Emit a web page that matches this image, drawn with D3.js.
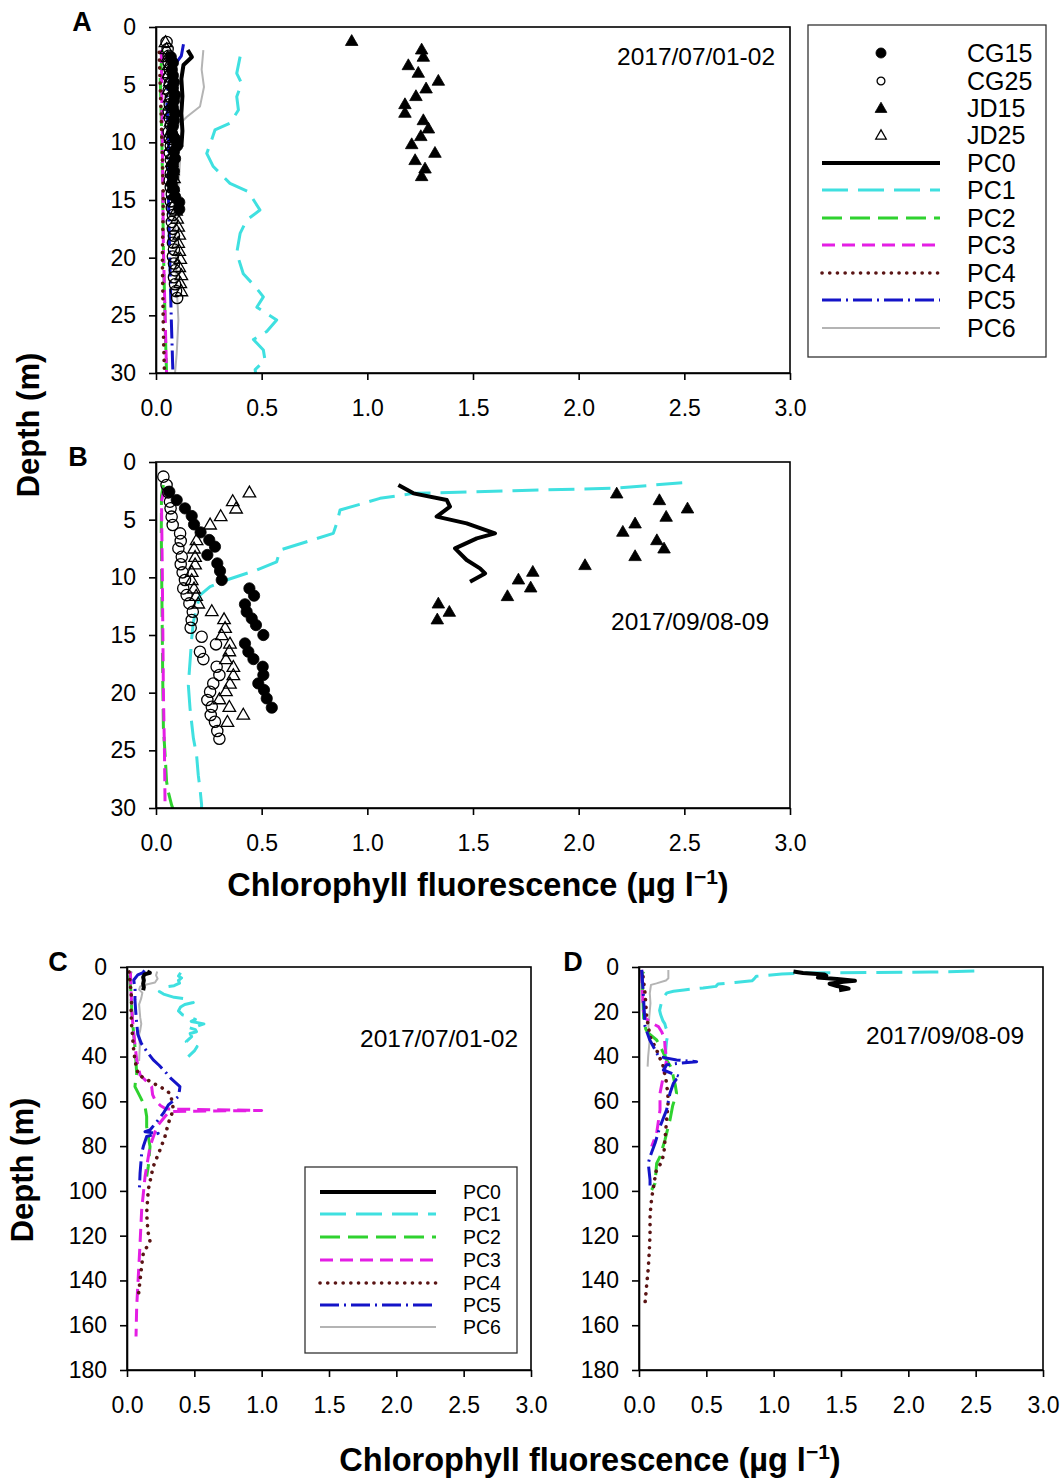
<!DOCTYPE html>
<html><head><meta charset="utf-8">
<script src="https://cdn.jsdelivr.net/npm/d3@7"></script>
<style>
body{margin:0;background:#fff}
svg text{font-family:"Liberation Sans",Arial,Helvetica,sans-serif;fill:#000}
</style>
</head><body>
<svg id="chart" width="1064" height="1479"></svg>
<script>
// ---------------- DATA ----------------
const seriesNames = ["PC0","PC1","PC2","PC3","PC4","PC5","PC6"];
const stationNames = ["CG15","CG25","JD15","JD25"];
const xTickValues = [0, 0.5, 1.0, 1.5, 2.0, 2.5, 3.0];
const shallowDepthTicks = [0, 5, 10, 15, 20, 25, 30];
const deepDepthTicks = [0, 20, 40, 60, 80, 100, 120, 140, 160, 180];
const dateLabels = ["2017/07/01-02", "2017/09/08-09"];
const xTitle = "Chlorophyll fluorescence (\u00b5g l";
const yTitle = "Depth (m)";

// July profiles: [depth (m), chlorophyll (ug/l)]
const julPC0 = [[2.0,0.15],[2.6,0.17],[3.3,0.13],[4.5,0.12],[6.0,0.125],[7.5,0.12],[9.0,0.125],[10.4,0.12]];
const julPC1 = [[2.57,0.398],[4.02,0.382],[4.89,0.405],[6.04,0.382],[7.2,0.39],[8.35,0.35],[8.93,0.279],[9.8,0.263],[10.96,0.24],[12.1,0.271],[13.56,0.35],[14.28,0.437],[15.87,0.492],[16.74,0.429],[17.9,0.398],[19.6,0.382],[21.4,0.413],[22.5,0.469],[23.4,0.508],[24.3,0.477],[25.4,0.571],[26.4,0.524],[27.1,0.461],[28.0,0.508],[28.9,0.516],[29.7,0.469],[31.1,0.48],[33.3,0.44],[35.6,0.52],[37.5,0.5],[40.0,0.455]];
const julPC2 = [[2.0,0.03],[4.3,0.02],[10,0.028],[19.2,0.035],[27,0.045],[35.6,0.059],[41,0.065],[47.5,0.072],[50,0.065],[53.4,0.059],[57.9,0.097],[62.4,0.134],[66.8,0.146],[71.3,0.146],[80.2,0.171],[89.1,0.158],[93.6,0.146]];
const julPC3 = [[2.0,0.025],[10,0.03],[19.2,0.035],[30,0.05],[41.5,0.072],[48.2,0.097],[53.4,0.183],[57,0.19],[59.4,0.208],[62,0.25],[63.4,0.29],[64.1,1.0],[64.5,0.34],[65.5,0.3],[71.3,0.221],[80.2,0.171],[93.6,0.134],[108.5,0.109],[123.4,0.097],[138.2,0.084],[151.6,0.072],[165,0.067]];
const julPC4 = [[2.2,0.015],[8,0.025],[14.7,0.035],[20,0.03],[26.6,0.035],[30,0.04],[35.6,0.047],[42,0.06],[48.2,0.084],[50,0.14],[51.9,0.195],[54,0.26],[56.4,0.319],[60,0.335],[63.8,0.344],[66,0.33],[69.8,0.307],[75.7,0.282],[81.7,0.245],[89.1,0.195],[99.4,0.158],[110,0.146],[118,0.155],[122.6,0.171],[127.8,0.121],[133,0.11],[139.7,0.097],[147.2,0.084]];
const julPC5 = [[1.5,0.13],[2.5,0.12],[3.5,0.08],[5.8,0.05],[10,0.06],[14.7,0.059],[20,0.065],[25.1,0.072],[30,0.08],[34.1,0.106],[38,0.15],[41.5,0.195],[44,0.24],[47.5,0.294],[50,0.33],[53.4,0.393],[55,0.39],[57.9,0.381],[60,0.34],[61.6,0.307],[65.3,0.27],[68.3,0.232],[72.8,0.171],[73.6,0.134],[74.3,0.232],[75.7,0.146],[80.2,0.121],[83.2,0.109],[92.1,0.097],[99.6,0.092]];
const julPC6 = [[2.0,0.224],[3.7,0.216],[5.2,0.227],[6.9,0.208],[7.8,0.145],[8.65,0.098],[10.1,0.09],[11.5,0.114],[13.9,0.106],[16.7,0.09],[22.5,0.098],[25.4,0.106],[28.3,0.098],[30,0.09],[35,0.095],[42,0.09]];

// September profiles
const sepPC0 = [[2.0,1.147],[2.72,1.218],[3.3,1.376],[3.87,1.391],[4.74,1.328],[5.32,1.47],[6.19,1.604],[6.62,1.518],[7.49,1.415],[8.5,1.47],[9.22,1.533],[9.66,1.557],[10.38,1.486]];
const sepPC1 = [[1.8,2.49],[2.28,2.164],[2.49,1.691],[2.72,1.218],[3.15,1.06],[3.58,0.981],[4.16,0.871],[5.32,0.855],[6.19,0.839],[6.91,0.713],[7.63,0.587],[8.65,0.571],[9.37,0.476],[10.23,0.334],[10.81,0.256],[11.54,0.208],[12.69,0.192],[13.85,0.177],[15.29,0.169],[17.32,0.161],[19.34,0.153],[21.36,0.161],[23.96,0.177],[25.41,0.192],[27.15,0.2],[28.3,0.208],[29.75,0.216],[33,0.205],[36,0.2],[41.5,0.193]];
const sepPC2 = [[2.0,0.035],[2.9,0.026],[6,0.025],[12,0.028],[19,0.032],[23,0.035],[26,0.045],[27.7,0.05],[28.6,0.058],[29.75,0.074],[32.6,0.131],[37,0.17],[41.5,0.205],[45,0.24],[49,0.255],[53,0.27],[56.4,0.279],[62,0.25],[68.3,0.23],[77.2,0.193],[84.7,0.156],[87.7,0.131],[96.6,0.119],[99.6,0.094]];
const sepPC3 = [[1.3,0.02],[10,0.025],[19.2,0.032],[23,0.05],[25.1,0.094],[26.6,0.144],[28.9,0.168],[32,0.19],[35.6,0.193],[41.5,0.205],[49,0.18],[56.4,0.156],[63.8,0.156],[74.3,0.131],[80.2,0.094]];
const sepPC3shallow = [[2.3,0.04],[3.4,0.026],[10,0.03],[20,0.035],[25,0.04],[30,0.043]];
const sepPC4 = [[4.3,0.03],[11.8,0.045],[22.2,0.057],[31.1,0.082],[37.1,0.131],[44.5,0.181],[52,0.205],[59.4,0.218],[68.3,0.205],[77.2,0.193],[83.2,0.185],[87,0.168],[91.4,0.126],[98.8,0.106],[103.3,0.094],[110.7,0.082],[119,0.082],[126.3,0.077],[134.5,0.069],[142,0.057],[150,0.045]];
const sepPC5 = [[1.3,0.02],[11.8,0.032],[26.6,0.045],[32.6,0.08],[40,0.146],[41.5,0.279],[42.3,0.428],[43,0.3],[43.7,0.205],[46,0.181],[49,0.304],[50,0.28],[52,0.255],[56.4,0.23],[63.8,0.205],[71.3,0.156],[78.7,0.119],[84.7,0.082],[87.7,0.069],[95.1,0.082],[99.6,0.082]];
const sepPC6 = [[1.3,0.218],[5,0.218],[6,0.2],[7.3,0.13],[8,0.089],[11.8,0.08],[16.2,0.085],[26.6,0.07],[31,0.08],[34.1,0.077],[40,0.068],[44.5,0.064]];

// Station samples (July)
const julCG15 = [[2.6,0.07],[3.1,0.08],[3.7,0.075],[4.2,0.08],[4.8,0.085],[5.3,0.08],[5.9,0.09],[6.4,0.085],[7.0,0.08],[7.5,0.09],[8.1,0.085],[8.6,0.08],[9.2,0.075],[9.7,0.09],[10.3,0.1],[10.8,0.085],[11.4,0.09],[11.9,0.08],[12.5,0.085],[13.0,0.08],[13.6,0.075],[14.1,0.085],[14.7,0.09],[15.2,0.11],[15.8,0.11]];
const julCG25 = [[1.3,0.05],[1.9,0.055],[2.5,0.06],[3.1,0.06],[3.7,0.065],[4.3,0.06],[4.9,0.065],[5.5,0.06],[6.1,0.07],[6.7,0.065],[7.3,0.06],[7.9,0.065],[8.5,0.07],[9.1,0.06],[9.7,0.065],[10.3,0.07],[10.9,0.065],[11.5,0.07],[12.1,0.075],[12.7,0.07],[13.3,0.065],[13.9,0.07],[14.5,0.075],[15.1,0.07],[15.7,0.075],[16.3,0.08],[16.9,0.075],[17.5,0.08],[18.1,0.085],[18.7,0.08],[19.3,0.085],[19.9,0.08],[20.5,0.085],[21.1,0.09],[21.7,0.085],[22.3,0.09],[22.9,0.095],[23.5,0.1]];
const julJD15 = [[1.2,0.926],[1.94,1.257],[2.57,1.265],[3.3,1.194],[3.96,1.241],[4.65,1.336],[5.32,1.278],[5.98,1.23],[6.68,1.178],[7.43,1.178],[8.07,1.265],[8.79,1.289],[9.45,1.253],[10.15,1.21],[10.9,1.32],[11.53,1.226],[12.26,1.273],[12.92,1.257]];
const julJD25 = [[1.3,0.045],[1.9,0.05],[2.6,0.055],[3.3,0.06],[4.0,0.06],[4.7,0.065],[5.4,0.06],[6.1,0.065],[6.8,0.07],[7.5,0.065],[8.2,0.07],[8.9,0.075],[9.6,0.07],[10.3,0.075],[11.0,0.08],[11.7,0.075],[12.4,0.08],[13.1,0.085],[13.8,0.08],[14.5,0.085],[15.2,0.09],[15.9,0.095],[16.6,0.1],[17.3,0.105],[18.0,0.11],[18.7,0.105],[19.4,0.11],[20.1,0.115],[20.8,0.11],[21.5,0.12],[22.2,0.115],[22.9,0.12]];

// Station samples (September)
const sepCG15 = [[2.57,0.063],[3.3,0.098],[4.02,0.137],[4.68,0.169],[5.41,0.18],[6.1,0.211],[6.76,0.252],[7.34,0.279],[8.06,0.243],[8.79,0.29],[9.45,0.303],[10.23,0.311],[10.96,0.442],[11.59,0.464],[12.34,0.421],[12.98,0.429],[13.56,0.453],[14.14,0.473],[15.0,0.508],[15.73,0.421],[16.45,0.437],[17.09,0.461],[17.75,0.505],[18.47,0.508],[19.2,0.484],[19.77,0.511],[20.5,0.524],[21.3,0.548]];
const sepCG25 = [[1.27,0.035],[2.0,0.05],[2.63,0.058],[3.44,0.066],[4.02,0.069],[4.74,0.074],[5.46,0.079],[6.19,0.114],[6.85,0.117],[7.49,0.106],[8.21,0.122],[8.87,0.117],[9.57,0.126],[10.23,0.137],[10.96,0.129],[11.54,0.145],[12.26,0.158],[12.98,0.174],[13.7,0.169],[14.37,0.164],[15.15,0.216],[15.81,0.284],[16.45,0.208],[17.09,0.224],[17.75,0.287],[18.47,0.3],[19.2,0.271],[19.92,0.256],[20.64,0.243],[21.22,0.264],[21.94,0.259],[22.52,0.279],[23.33,0.29],[24.0,0.3]];
const sepJD15 = [[2.72,2.18],[3.3,2.382],[4.02,2.515],[4.74,2.414],[5.32,2.267],[6.04,2.209],[6.77,2.37],[7.49,2.404],[8.15,2.267],[8.93,2.03],[9.51,1.783],[10.18,1.715],[10.87,1.773],[11.62,1.663],[12.26,1.336],[12.98,1.388],[13.64,1.331]];
const sepJD25 = [[2.63,0.442],[3.38,0.363],[4.02,0.379],[4.68,0.306],[5.41,0.256],[6.76,0.192],[7.49,0.18],[8.21,0.185],[8.87,0.185],[9.51,0.169],[10.23,0.169],[10.96,0.18],[11.59,0.19],[12.26,0.2],[12.92,0.264],[13.62,0.322],[14.37,0.327],[15.0,0.311],[15.73,0.35],[16.4,0.347],[17.09,0.331],[17.75,0.366],[18.47,0.366],[19.2,0.35],[19.86,0.331],[20.56,0.3],[21.22,0.347],[21.89,0.413],[22.52,0.338]];

// ---------------- STYLES ----------------
const lineStyle = {
  PC0:{color:"#000000", w:4,   dash:null,        cap:"butt"},
  PC1:{color:"#3fe0e0", w:3,   dash:"26,10",     cap:"butt"},
  PC2:{color:"#2fd22f", w:3,   dash:"20,8",      cap:"butt"},
  PC3:{color:"#e41ee4", w:3,   dash:"13,7",      cap:"butt"},
  PC4:{color:"#5a1414", w:3.6, dash:"0.1,7.6",   cap:"round"},
  PC5:{color:"#1414c8", w:3,   dash:"19,5,2,5",  cap:"butt"},
  PC6:{color:"#b4b4b4", w:2,   dash:null,        cap:"butt"}
};
const markStyle = {
  CG15:{shape:d3.symbolCircle,   fill:"#000", size:100},
  CG25:{shape:d3.symbolCircle,   fill:"none", size:100},
  JD15:{shape:d3.symbolTriangle, fill:"#000", size:68},
  JD25:{shape:d3.symbolTriangle, fill:"none", size:68}
};

const svg = d3.select("#chart");
const FONT = '"Liberation Sans",Arial,Helvetica,sans-serif';

const panels = [
  {id:"A", x0:156, x1:790, y0:27, y1:373, dmax:30, dticks:shallowDepthTicks, date:dateLabels[0], dateX:617, dateY:56, letterX:82, letterY:22,
   lines:{PC0:julPC0,PC1:julPC1,PC2:julPC2,PC3:julPC3,PC4:julPC4,PC5:julPC5,PC6:julPC6},
   marks:{CG15:julCG15,CG25:julCG25,JD15:julJD15,JD25:julJD25}},
  {id:"B", x0:156, x1:790, y0:462, y1:808, dmax:30, dticks:shallowDepthTicks, date:dateLabels[1], dateX:611, dateY:621, letterX:78, letterY:457,
   lines:{PC0:sepPC0,PC1:sepPC1,PC2:sepPC2,PC3:sepPC3shallow},
   marks:{CG15:sepCG15,CG25:sepCG25,JD15:sepJD15,JD25:sepJD25}},
  {id:"C", x0:127, x1:531, y0:967, y1:1370, dmax:180, dticks:deepDepthTicks, date:dateLabels[0], dateX:360, dateY:1038, letterX:58, letterY:962,
   lines:{PC0:julPC0,PC1:julPC1,PC2:julPC2,PC3:julPC3,PC4:julPC4,PC5:julPC5,PC6:julPC6},
   marks:{}},
  {id:"D", x0:639, x1:1043, y0:967, y1:1370, dmax:180, dticks:deepDepthTicks, date:dateLabels[1], dateX:866, dateY:1035, letterX:573, letterY:962,
   lines:{PC0:sepPC0,PC1:sepPC1,PC2:sepPC2,PC3:sepPC3,PC4:sepPC4,PC5:sepPC5,PC6:sepPC6},
   marks:{}}
];

function drawPanel(p){
  const x = d3.scaleLinear().domain([0,3]).range([p.x0,p.x1]);
  const y = d3.scaleLinear().domain([0,p.dmax]).range([p.y0,p.y1]);
  const g = svg.append("g");
  const clipId = "clip"+p.id;
  svg.append("clipPath").attr("id",clipId).append("rect")
    .attr("x",p.x0).attr("y",p.y0).attr("width",p.x1-p.x0).attr("height",p.y1-p.y0);
  const plot = g.append("g").attr("clip-path",`url(#${clipId})`);
  const line = d3.line().x(d=>x(d[1])).y(d=>y(d[0]));
  const order = ["PC6","PC1","PC2","PC3","PC4","PC5","PC0"];
  order.forEach(k=>{
    if(!p.lines[k]) return;
    const s = lineStyle[k];
    plot.append("path").attr("d",line(p.lines[k]))
      .attr("fill","none").attr("stroke",s.color).attr("stroke-width",s.w)
      .attr("stroke-dasharray",s.dash).attr("stroke-linecap",s.cap).attr("stroke-linejoin","round");
  });
  stationNames.forEach(k=>{
    if(!p.marks[k]) return;
    const m = markStyle[k];
    plot.selectAll(null).data(p.marks[k]).enter().append("path")
      .attr("d",d3.symbol().type(m.shape).size(m.size))
      .attr("transform",d=>`translate(${x(d[1])},${y(d[0])+(m.shape===d3.symbolTriangle?1:0)})`)
      .attr("fill",m.fill).attr("stroke","#000").attr("stroke-width",m.fill==="none"?1.3:0.8);
  });
  g.append("rect").attr("x",p.x0).attr("y",p.y0).attr("width",p.x1-p.x0).attr("height",p.y1-p.y0)
    .attr("fill","none").attr("stroke","#000").attr("stroke-width",1.6);
  const ax = g.append("g").attr("transform",`translate(0,${p.y1})`)
    .call(d3.axisBottom(x).tickValues(xTickValues).tickFormat(d3.format(".1f")).tickSize(7).tickSizeOuter(0).tickPadding(20));
  const ay = g.append("g").attr("transform",`translate(${p.x0},0)`)
    .call(d3.axisLeft(y).tickValues(p.dticks).tickFormat(d3.format("d")).tickSize(7).tickSizeOuter(0).tickPadding(13));
  [ax,ay].forEach(a=>{
    a.attr("font-family",FONT).attr("font-size",23);
    a.select(".domain").attr("stroke-width",1.6);
    a.selectAll(".tick line").attr("stroke-width",1.6);
    a.selectAll(".tick text").attr("fill","#000");
  });
  g.append("text").attr("x",p.dateX).attr("y",p.dateY).attr("dy","0.35em")
    .attr("font-size",24.5).text(p.date);
  g.append("text").attr("x",p.letterX).attr("y",p.letterY).attr("dy","0.35em").attr("text-anchor","middle")
    .attr("font-size",27).attr("font-weight","bold").text(p.id);
}
panels.forEach(drawPanel);

function xAxisTitle(cx, cy){
  const t = svg.append("text").attr("x",cx).attr("y",cy).attr("dy","0.35em").attr("text-anchor","middle")
    .attr("font-size",32.5).attr("font-weight","bold");
  t.append("tspan").text(xTitle);
  t.append("tspan").attr("font-size",21).attr("dy",-12).text("\u22121");
  t.append("tspan").attr("dy",12).text(")");
}
function yAxisTitle(cx, cy){
  svg.append("text").attr("transform",`translate(${cx},${cy}) rotate(-90)`).attr("dy","0.35em")
    .attr("text-anchor","middle").attr("font-size",31).attr("font-weight","bold").text(yTitle);
}
xAxisTitle(478, 885);
xAxisTitle(590, 1460);
yAxisTitle(28, 425);
yAxisTitle(22, 1170);

function legend(box, entries, symX, lx0, lx1, labelX, fontSize, rowY){
  const g = svg.append("g");
  g.append("rect").attr("x",box[0]).attr("y",box[1]).attr("width",box[2]-box[0]).attr("height",box[3]-box[1])
    .attr("fill","#fff").attr("stroke","#333").attr("stroke-width",1.3);
  entries.forEach((k,i)=>{
    const yy = rowY[i];
    if(markStyle[k]){
      const m = markStyle[k];
      const small = k==="CG25"||k==="JD25";
      g.append("path").attr("d",d3.symbol().type(m.shape).size(small?48:(m.shape===d3.symbolTriangle?60:80)))
        .attr("transform",`translate(${symX},${yy+(m.shape===d3.symbolTriangle?1:0)})`)
        .attr("fill",m.fill).attr("stroke","#000").attr("stroke-width",m.fill==="none"?1.3:0.8);
    } else {
      const s = lineStyle[k];
      g.append("line").attr("x1",lx0).attr("x2",lx1).attr("y1",yy).attr("y2",yy)
        .attr("stroke",s.color).attr("stroke-width",s.w).attr("stroke-dasharray",s.dash).attr("stroke-linecap",s.cap);
    }
    g.append("text").attr("x",labelX).attr("y",yy).attr("dy","0.35em").attr("font-size",fontSize).text(k);
  });
}
legend([808,25,1046,357], stationNames.concat(seriesNames), 881, 822, 940, 967, 25,
  [53,81,108,135,163,190,218,245,273,300,328]);
legend([305,1167,517,1353], seriesNames, 0, 320, 436, 463, 19.5,
  [1192,1214,1237,1260,1283,1305,1327]);
</script>
</body></html>
